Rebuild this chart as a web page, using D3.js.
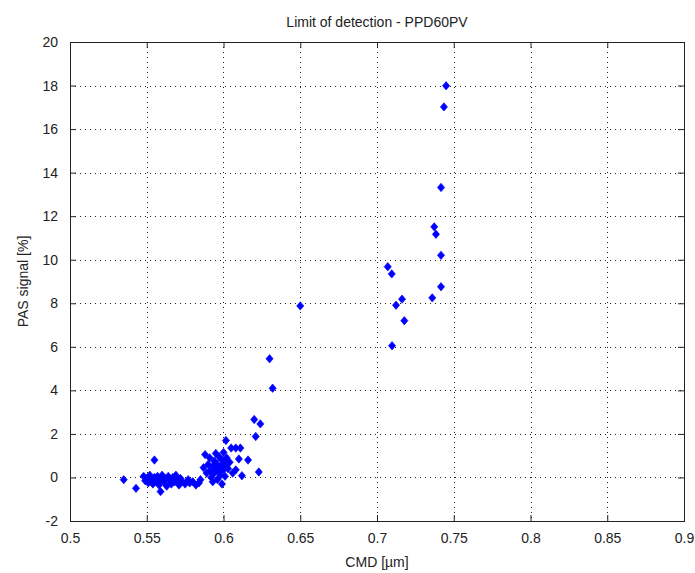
<!DOCTYPE html>
<html><head><meta charset="utf-8">
<script src="https://cdn.jsdelivr.net/npm/d3@7"></script>
<style>
body{margin:0;background:#fff;}
svg{display:block;font-family:"Liberation Sans",Arial,sans-serif;}
</style></head><body>
<svg id="c" width="695" height="573"></svg>
<script>
const title = "Limit of detection - PPD60PV";
const xLabel = "CMD [µm]";
const yLabel = "PAS signal [%]";
const xTicks = [0.5,0.55,0.6,0.65,0.7,0.75,0.8,0.85,0.9];
const yTicks = [-2,0,2,4,6,8,10,12,14,16,18,20];
const cmd = [
 0.535,0.543,0.548,0.549,0.550,0.551,0.552,0.553,0.554,0.555,0.555,0.556,0.557,0.558,0.559,0.559,
 0.560,0.561,0.562,0.563,0.564,0.565,0.566,0.567,0.568,0.569,0.570,0.571,0.572,0.573,0.575,0.577,
 0.578,0.580,0.582,0.584,0.585,
 0.587,0.588,0.589,0.590,0.591,0.591,0.592,0.593,0.593,0.594,0.594,0.595,0.595,0.596,0.596,0.597,
 0.597,0.598,0.598,0.599,0.599,0.600,0.600,0.601,0.601,0.602,0.603,0.6016,0.604,0.605,0.606,0.608,
 0.608,0.610,0.611,0.612,0.616,0.620,0.621,0.623,0.624,0.630,0.632,0.650,
 0.7098,0.7178,0.7124,0.7163,0.7360,0.7417,0.7096,0.7070,0.7417,0.7384,0.7373,0.7417,0.7436,0.7450
];
const pas = [
 -0.10,-0.50,0.05,-0.15,-0.05,-0.25,0.10,-0.10,-0.30,0.00,0.80,-0.20,0.05,-0.35,-0.10,-0.65,
 0.10,-0.20,-0.05,-0.40,0.05,-0.15,-0.30,0.00,-0.20,0.10,-0.10,-0.35,-0.05,-0.20,-0.30,-0.10,
 -0.25,-0.20,-0.35,-0.25,-0.10,
 0.45,1.05,0.20,0.60,0.90,0.30,0.00,0.50,-0.20,0.75,0.20,1.10,0.40,-0.10,0.60,0.25,
 0.95,0.10,0.50,0.80,-0.30,0.35,1.15,0.60,0.05,0.90,0.40,1.70,0.70,1.35,0.20,1.35,
 0.35,0.85,1.35,0.08,0.80,2.66,1.88,0.25,2.46,5.45,4.10,7.88,
 6.05,7.20,7.91,8.19,8.25,8.76,9.35,9.68,10.20,11.17,11.51,13.32,17.02,17.99
];

const L=70,R=684,T=42,B=521;
const svg=d3.select("#c");
const x=d3.scaleLinear().domain([0.5,0.9]).range([L,R]);
const y=d3.scaleLinear().domain([-2,20]).range([B,T]);

// grid
const g=svg.append("g");
g.selectAll("line.gx").data(xTicks.slice(1,-1)).enter().append("line")
 .attr("x1",d=>Math.round(x(d))+0.5).attr("x2",d=>Math.round(x(d))+0.5)
 .attr("y1",T).attr("y2",B).attr("stroke","#222").attr("stroke-dasharray","1,4");
g.selectAll("line.gy").data(yTicks.slice(1,-1)).enter().append("line")
 .attr("y1",d=>Math.round(y(d))+0.5).attr("y2",d=>Math.round(y(d))+0.5)
 .attr("x1",L).attr("x2",R).attr("stroke","#222").attr("stroke-dasharray","1,4");

// axes
const fmt=d=>String(d);
const ax=(gen,tr)=>{
 const a=svg.append("g").attr("transform",tr).call(gen);
 a.select(".domain").remove();
 a.selectAll("line").attr("stroke","#222");
 a.selectAll("text").attr("fill","#222").style("font-size","14px").style("font-family","'Liberation Sans',Arial,sans-serif");
 return a;
};
ax(d3.axisBottom(x).tickValues(xTicks).tickFormat(fmt).tickSizeInner(-6).tickSizeOuter(0).tickPadding(12),`translate(0,${B})`);
ax(d3.axisTop(x).tickValues(xTicks).tickFormat("").tickSizeInner(-6).tickSizeOuter(0),`translate(0,${T})`);
ax(d3.axisLeft(y).tickValues(yTicks).tickFormat(fmt).tickSizeInner(-6).tickSizeOuter(0).tickPadding(12),`translate(${L},0)`);
ax(d3.axisRight(y).tickValues(yTicks).tickFormat("").tickSizeInner(-6).tickSizeOuter(0),`translate(${R},0)`);

svg.append("rect").attr("x",L+0.5).attr("y",T+0.5).attr("width",R-L).attr("height",B-T)
 .attr("fill","none").attr("stroke","#222").attr("stroke-width",1);

// markers
const diamond={draw(ctx,size){const w=3.6,h=4.2;ctx.moveTo(0,-h);ctx.lineTo(w,0);ctx.lineTo(0,h);ctx.lineTo(-w,0);ctx.closePath();}};
const pts=cmd.map((c,i)=>({c,p:pas[i]}));
svg.append("g").selectAll("path").data(pts).enter().append("path")
 .attr("d",d3.symbol().type(diamond).size(1))
 .attr("transform",d=>`translate(${x(d.c)},${y(d.p)})`)
 .attr("fill","#0000ff").attr("stroke","#0000ff").attr("stroke-width",0.6);

svg.append("text").attr("x",(L+R)/2).attr("y",27).attr("text-anchor","middle")
 .style("font-size","14px").attr("fill","#222").text(title);
svg.append("text").attr("x",(L+R)/2).attr("y",567).attr("text-anchor","middle")
 .style("font-size","14px").attr("fill","#222").text(xLabel);
svg.append("text").attr("transform",`translate(28,${(T+B)/2}) rotate(-90)`).attr("text-anchor","middle")
 .style("font-size","14px").attr("fill","#222").text(yLabel);
</script></body></html>
